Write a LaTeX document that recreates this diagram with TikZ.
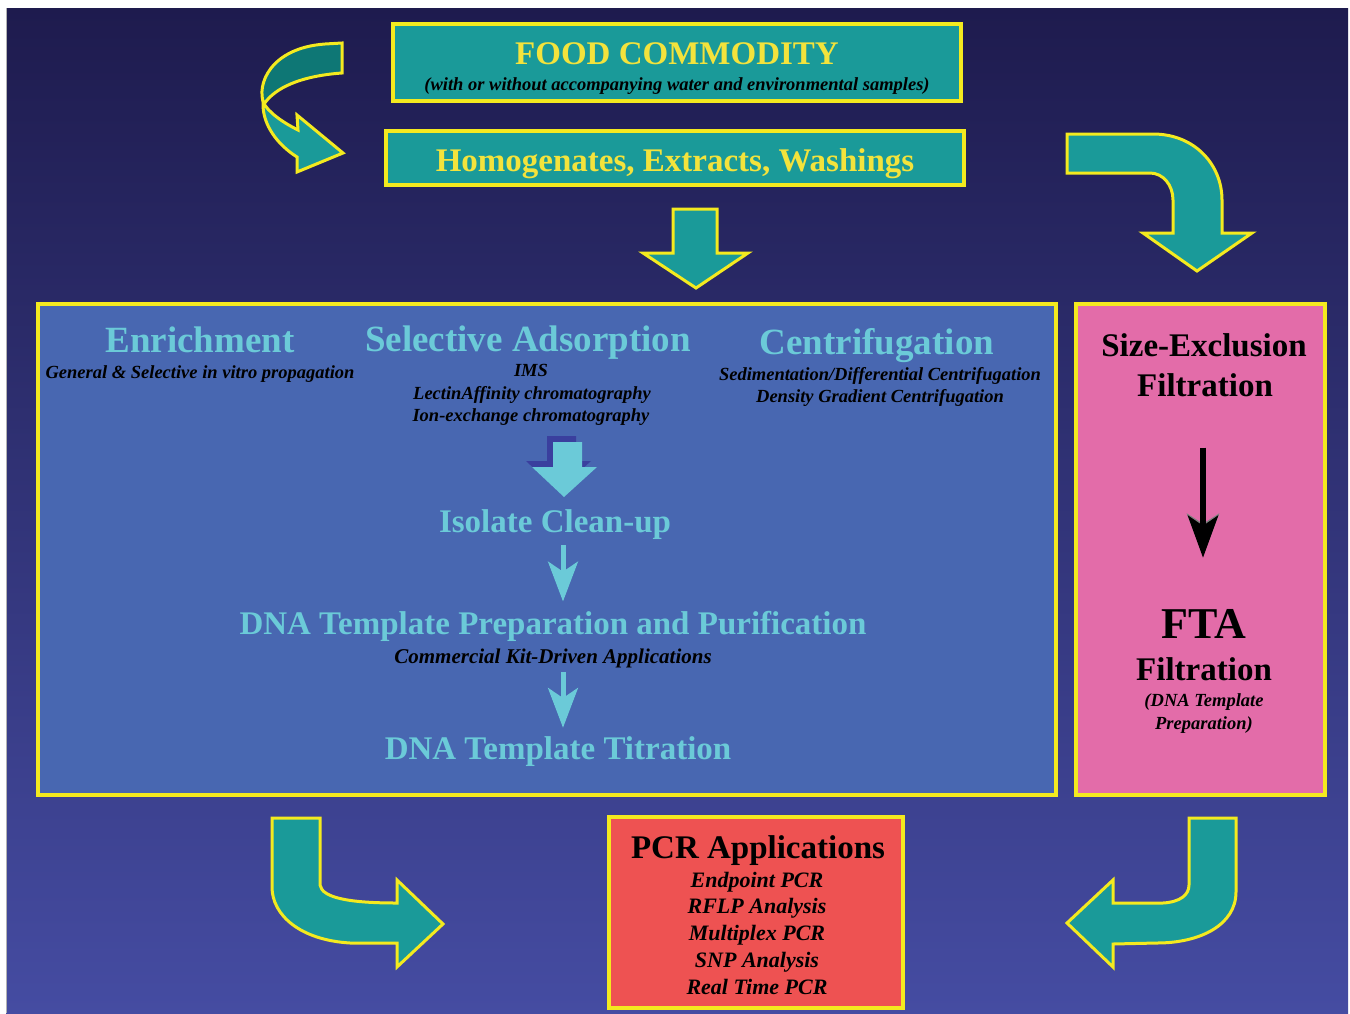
\documentclass[tikz,border=0pt]{standalone}
\usepackage{fontspec}
\setmainfont{Liberation Serif}
\usetikzlibrary{arrows.meta}
\definecolor{bgtop}{HTML}{1E1B4E}
\definecolor{bgmid}{HTML}{2C3490}
\definecolor{bgbot}{HTML}{454CA2}
\definecolor{myteal}{HTML}{1A9A99}
\definecolor{darkteal}{HTML}{0E7775}
\definecolor{yel}{HTML}{F4EA1F}
\definecolor{yeltext}{HTML}{F3E33C}
\definecolor{boxblue}{HTML}{4867B1}
\definecolor{cyantext}{HTML}{6BCAD8}
\definecolor{pinkbox}{HTML}{E36CA9}
\definecolor{redbox}{HTML}{EE5252}
\definecolor{shadowblue}{HTML}{3A3F9E}
\begin{document}
\begin{tikzpicture}[x=1pt,y=-1pt,
  box/.style={draw=yel, line width=4pt, rectangle, inner sep=0pt},
  blk/.style={fill=myteal, draw=yel, line width=3pt, line join=miter},
  txt/.style={inner sep=0pt, anchor=base},
  big/.style={txt, font=\fontsize{33}{36}\selectfont\bfseries},
  col/.style={txt, font=\fontsize{37}{40}\selectfont\bfseries, text=cyantext},
  sub/.style={txt, font=\fontsize{18.5}{22}\selectfont\bfseries\itshape, text=black},
  lst/.style={txt, font=\fontsize{22}{26}\selectfont\bfseries\itshape, text=black},
  thinarr/.style={draw=cyantext, line width=5pt, -{Stealth[length=40pt,width=30pt,inset=10pt]}},
  thinshadow/.style={draw=shadowblue, line width=5pt, -{Stealth[length=40pt,width=30pt,inset=10pt]}},
]
\useasboundingbox (0,0) rectangle (1350,1013);
\fill[white] (0,0) rectangle (1350,1013);
\shade[top color=bgtop, middle color=bgmid, bottom color=bgbot] (6,8) rectangle (1348,1013);
\draw[gray!60, line width=1pt] (6,8) -- (6,1013);

% top boxes
\node[box, fill=myteal, minimum width=568pt, minimum height=77pt] (food) at (677,62.5) {};
\node[big, text=yeltext] (foodt) at (677,64) {FOOD COMMODITY};
\node[sub] (foods) at (677,90) {(with or without accompanying water and environmental samples)};

\node[box, fill=myteal, minimum width=578pt, minimum height=54pt] (homog) at (675,158) {};
\node[big, text=yeltext] (homogt) at (675,171) {Homogenates, Extracts, Washings};

% twisted arrow (top left)
\draw[blk, fill=darkteal] (342,43) -- (342,73) .. controls (300,76) and (275,88) .. (264,104)
   .. controls (256,85) and (270,48) .. (325,44) -- cycle;
\draw[blk] (263,102) .. controls (262,125) and (278,145) .. (297,157) -- (297,172) -- (343,153)
   -- (297,115) -- (298,130) .. controls (282,122) and (268,112) .. (263,102) -- cycle;

% down arrow
\draw[blk] (673,209) -- (717,209) -- (717,253) -- (748,253) -- (696,288) -- (643,253) -- (673,253) -- cycle;

% top right arrow
\draw[blk] (1067,134) -- (1153,134) .. controls (1195,134) and (1222,165) .. (1222,200) -- (1222,233)
   -- (1252,233) -- (1197,271) -- (1143,233) -- (1173,233) -- (1173,200)
   .. controls (1173,185) and (1163,173) .. (1150,173) -- (1067,173) -- cycle;

% big blue box
\node[box, fill=boxblue, minimum width=1018pt, minimum height=491pt] (bigbox) at (547,549.5) {};
\node[col] (enr) at (200,352) {Enrichment};
\node[sub] (enrs) at (200,378) {General \& Selective in vitro propagation};
\node[col] (sel) at (528,351) {Selective Adsorption};
\node[sub] (ims) at (531,376) {IMS};
\node[sub] (lec) at (532,399) {LectinAffinity chromatography};
\node[sub] (ion) at (531,421) {Ion-exchange chromatography};
\node[col] (cen) at (877,354) {Centrifugation};
\node[sub] (sed) at (880,380) {Sedimentation/Differential Centrifugation};
\node[sub] (den) at (880,402) {Density Gradient Centrifugation};

% block arrow in big box
\fill[shadowblue] (547,436) -- (576,436) -- (576,461) -- (591,461) -- (558,491) -- (526,461) -- (547,461) -- cycle;
\fill[cyantext] (553,442) -- (582,442) -- (582,467) -- (597,467) -- (564,497) -- (532,467) -- (553,467) -- cycle;

\node[big, text=cyantext] (iso) at (555,532) {Isolate Clean-up};
\node[big, text=cyantext] (dna) at (553,634) {DNA Template Preparation and Purification};
\node[txt, font=\fontsize{21}{24}\selectfont\bfseries\itshape] (comm) at (553,663) {Commercial Kit-Driven Applications};
\node[big, text=cyantext] (titr) at (558,759) {DNA Template Titration};

\coordinate (ax) at (563,0);
\draw[thinshadow, xshift=-4pt, yshift=4pt, shorten <=6pt, shorten >=9pt] (iso.south -| ax) -- (dna.north -| ax);
\draw[thinarr, shorten <=6pt, shorten >=9pt] (iso.south -| ax) -- (dna.north -| ax);
\draw[thinshadow, xshift=-4pt, yshift=4pt, shorten <=4pt, shorten >=8pt] (comm.south -| ax) -- (titr.north -| ax);
\draw[thinarr, shorten <=4pt, shorten >=8pt] (comm.south -| ax) -- (titr.north -| ax);

% pink box
\node[box, fill=pinkbox, minimum width=249pt, minimum height=491pt] (pink) at (1200.5,549.5) {};
\node[big] (sizeex) at (1204,356) {Size-Exclusion};
\node[big] (filt1) at (1205,396) {Filtration};
\node[txt, font=\fontsize{44}{48}\selectfont\bfseries] (fta) at (1204,638) {FTA};
\node[big] (filt2) at (1204,680) {Filtration};
\node[sub] (dnat) at (1204,706) {(DNA Template};
\node[sub] (prep) at (1204,729) {Preparation)};
\coordinate (bx) at (1203,0);
\draw[gray, line width=6pt, xshift=-3pt, shorten <=51pt, shorten >=53pt, -{Stealth[length=42pt,width=32pt,inset=10pt]}] (filt1.south -| bx) -- (fta.north -| bx);
\draw[black, line width=6pt, shorten <=51pt, shorten >=51pt, -{Stealth[length=42pt,width=30pt,inset=10pt]}] (filt1.south -| bx) -- (fta.north -| bx);

% PCR box
\node[box, fill=redbox, minimum width=294pt, minimum height=191pt] (pcr) at (756,912.5) {};
\node[big] (pcrt) at (758,858) {PCR Applications};
\node[lst] (l1) at (757,887) {Endpoint PCR};
\node[lst] (l2) at (757,913) {RFLP Analysis};
\node[lst] (l3) at (757,940) {Multiplex PCR};
\node[lst] (l4) at (757,967) {SNP Analysis};
\node[lst] (l5) at (757,994) {Real Time PCR};

% bottom left arrow
\draw[blk] (272,818) -- (320,818) -- (320,885) .. controls (322,898) and (350,903) .. (397,903)
   -- (397,880) -- (443,924) -- (397,967) -- (397,943) -- (350,943)
   .. controls (300,940) and (272,915) .. (272,887) -- cycle;

% bottom right arrow
\draw[blk] (1189,818) -- (1236,818) -- (1236,892) .. controls (1236,925) and (1200,943) .. (1157,943)
   -- (1113,944) -- (1113,967) -- (1067,923) -- (1113,880) -- (1113,903) -- (1163,903)
   .. controls (1180,902) and (1189,895) .. (1189,885) -- cycle;
\end{tikzpicture}
\end{document}
